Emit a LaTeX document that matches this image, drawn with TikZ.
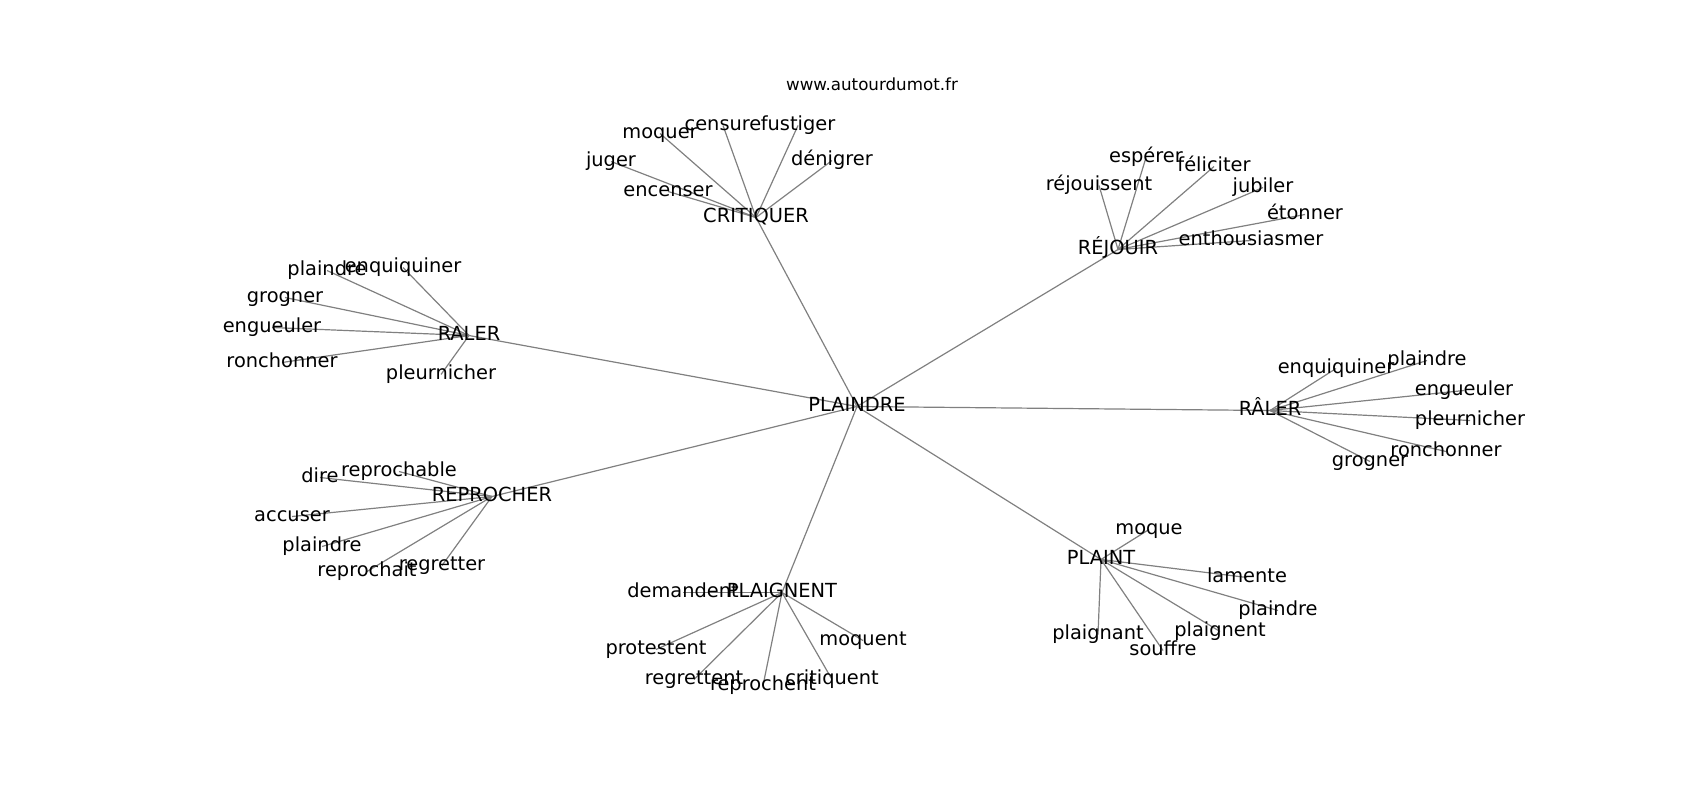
\documentclass[tikz,border=0pt]{standalone}
\usepackage{fontspec}
\setmainfont{DejaVu Sans}
\usetikzlibrary{backgrounds}
\definecolor{edgegray}{RGB}{128,128,128}
\tikzset{
  lbl/.style={font=\fontsize{19.4}{23}\selectfont, inner sep=0pt, text height=14.7pt, text depth=4pt, anchor=center},
  ttl/.style={font=\fontsize{16.7}{20}\selectfont, inner sep=0pt, text height=12.7pt, text depth=3.5pt, anchor=center},
  edge/.style={draw=edgegray, line width=1.2pt}
}
\begin{document}
\begin{tikzpicture}[x=1pt,y=-1pt]
\useasboundingbox (0,0) rectangle (1700,800);
\begin{scope}[shift={(0,1.5)}]
\node[ttl] (title) at (872,84) {www.autourdumot.fr};
% hubs
\node[lbl] (c) at (857,405) {PLAINDRE};
\node[lbl] (cr) at (756,216) {CRITIQUER};
\node[lbl] (rj) at (1118,248) {RÉJOUIR};
\node[lbl] (ra) at (469,334) {RALER};
\node[lbl] (rb) at (1270,409) {RÂLER};
\node[lbl] (rp) at (492,495) {REPROCHER};
\node[lbl] (pg) at (782,591) {PLAIGNENT};
\node[lbl] (pt) at (1101,558) {PLAINT};
% CRITIQUER
\node[lbl] (cr1) at (660,132) {moquer};
\node[lbl] (cr2) at (723,124) {censure};
\node[lbl] (cr3) at (798,124) {fustiger};
\node[lbl] (cr4) at (611,160) {juger};
\node[lbl] (cr5) at (832,159) {dénigrer};
\node[lbl] (cr6) at (668,190) {encenser};
% REJOUIR
\node[lbl] (rj1) at (1146,156) {espérer};
\node[lbl] (rj2) at (1214,165) {féliciter};
\node[lbl] (rj3) at (1099,184) {réjouissent};
\node[lbl] (rj4) at (1263,186) {jubiler};
\node[lbl] (rj5) at (1305,213) {étonner};
\node[lbl] (rj6) at (1251,239) {enthousiasmer};
% RALER
\node[lbl] (ra1) at (327,269) {plaindre};
\node[lbl] (ra2) at (403,266) {enquiquiner};
\node[lbl] (ra3) at (285,296) {grogner};
\node[lbl] (ra4) at (272,326) {engueuler};
\node[lbl] (ra5) at (282,361) {ronchonner};
\node[lbl] (ra6) at (441,373) {pleurnicher};
% RÂLER
\node[lbl] (rb1) at (1336,367) {enquiquiner};
\node[lbl] (rb2) at (1427,359) {plaindre};
\node[lbl] (rb3) at (1464,389) {engueuler};
\node[lbl] (rb4) at (1470,419) {pleurnicher};
\node[lbl] (rb5) at (1446,450) {ronchonner};
\node[lbl] (rb6) at (1370,460) {grogner};
% REPROCHER
\node[lbl] (rp1) at (320,476) {dire};
\node[lbl] (rp2) at (399,470) {reprochable};
\node[lbl] (rp3) at (292,515) {accuser};
\node[lbl] (rp4) at (322,545) {plaindre};
\node[lbl] (rp5) at (367,570) {reprochait};
\node[lbl] (rp6) at (442,564) {regretter};
% PLAIGNENT
\node[lbl] (pg1) at (683,591) {demandent};
\node[lbl] (pg2) at (656,648) {protestent};
\node[lbl] (pg3) at (694,678) {regrettent};
\node[lbl] (pg4) at (763,684) {reprochent};
\node[lbl] (pg5) at (832,678) {critiquent};
\node[lbl] (pg6) at (863,639) {moquent};
% PLAINT
\node[lbl] (pt1) at (1149,528) {moque};
\node[lbl] (pt2) at (1247,576) {lamente};
\node[lbl] (pt3) at (1278,609) {plaindre};
\node[lbl] (pt4) at (1098,633) {plaignant};
\node[lbl] (pt5) at (1220,630) {plaignent};
\node[lbl] (pt6) at (1163,649) {souffre};
\end{scope}
\begin{pgfonlayer}{background}
\foreach \h in {cr,rj,ra,rb,rp,pg,pt}{
  \draw[edge] (c.center) -- (\h.center);
  \foreach \i in {1,...,6}{
    \draw[edge] (\h.center) -- (\h\i.center);
  }
}
\end{pgfonlayer}
\end{tikzpicture}
\end{document}
